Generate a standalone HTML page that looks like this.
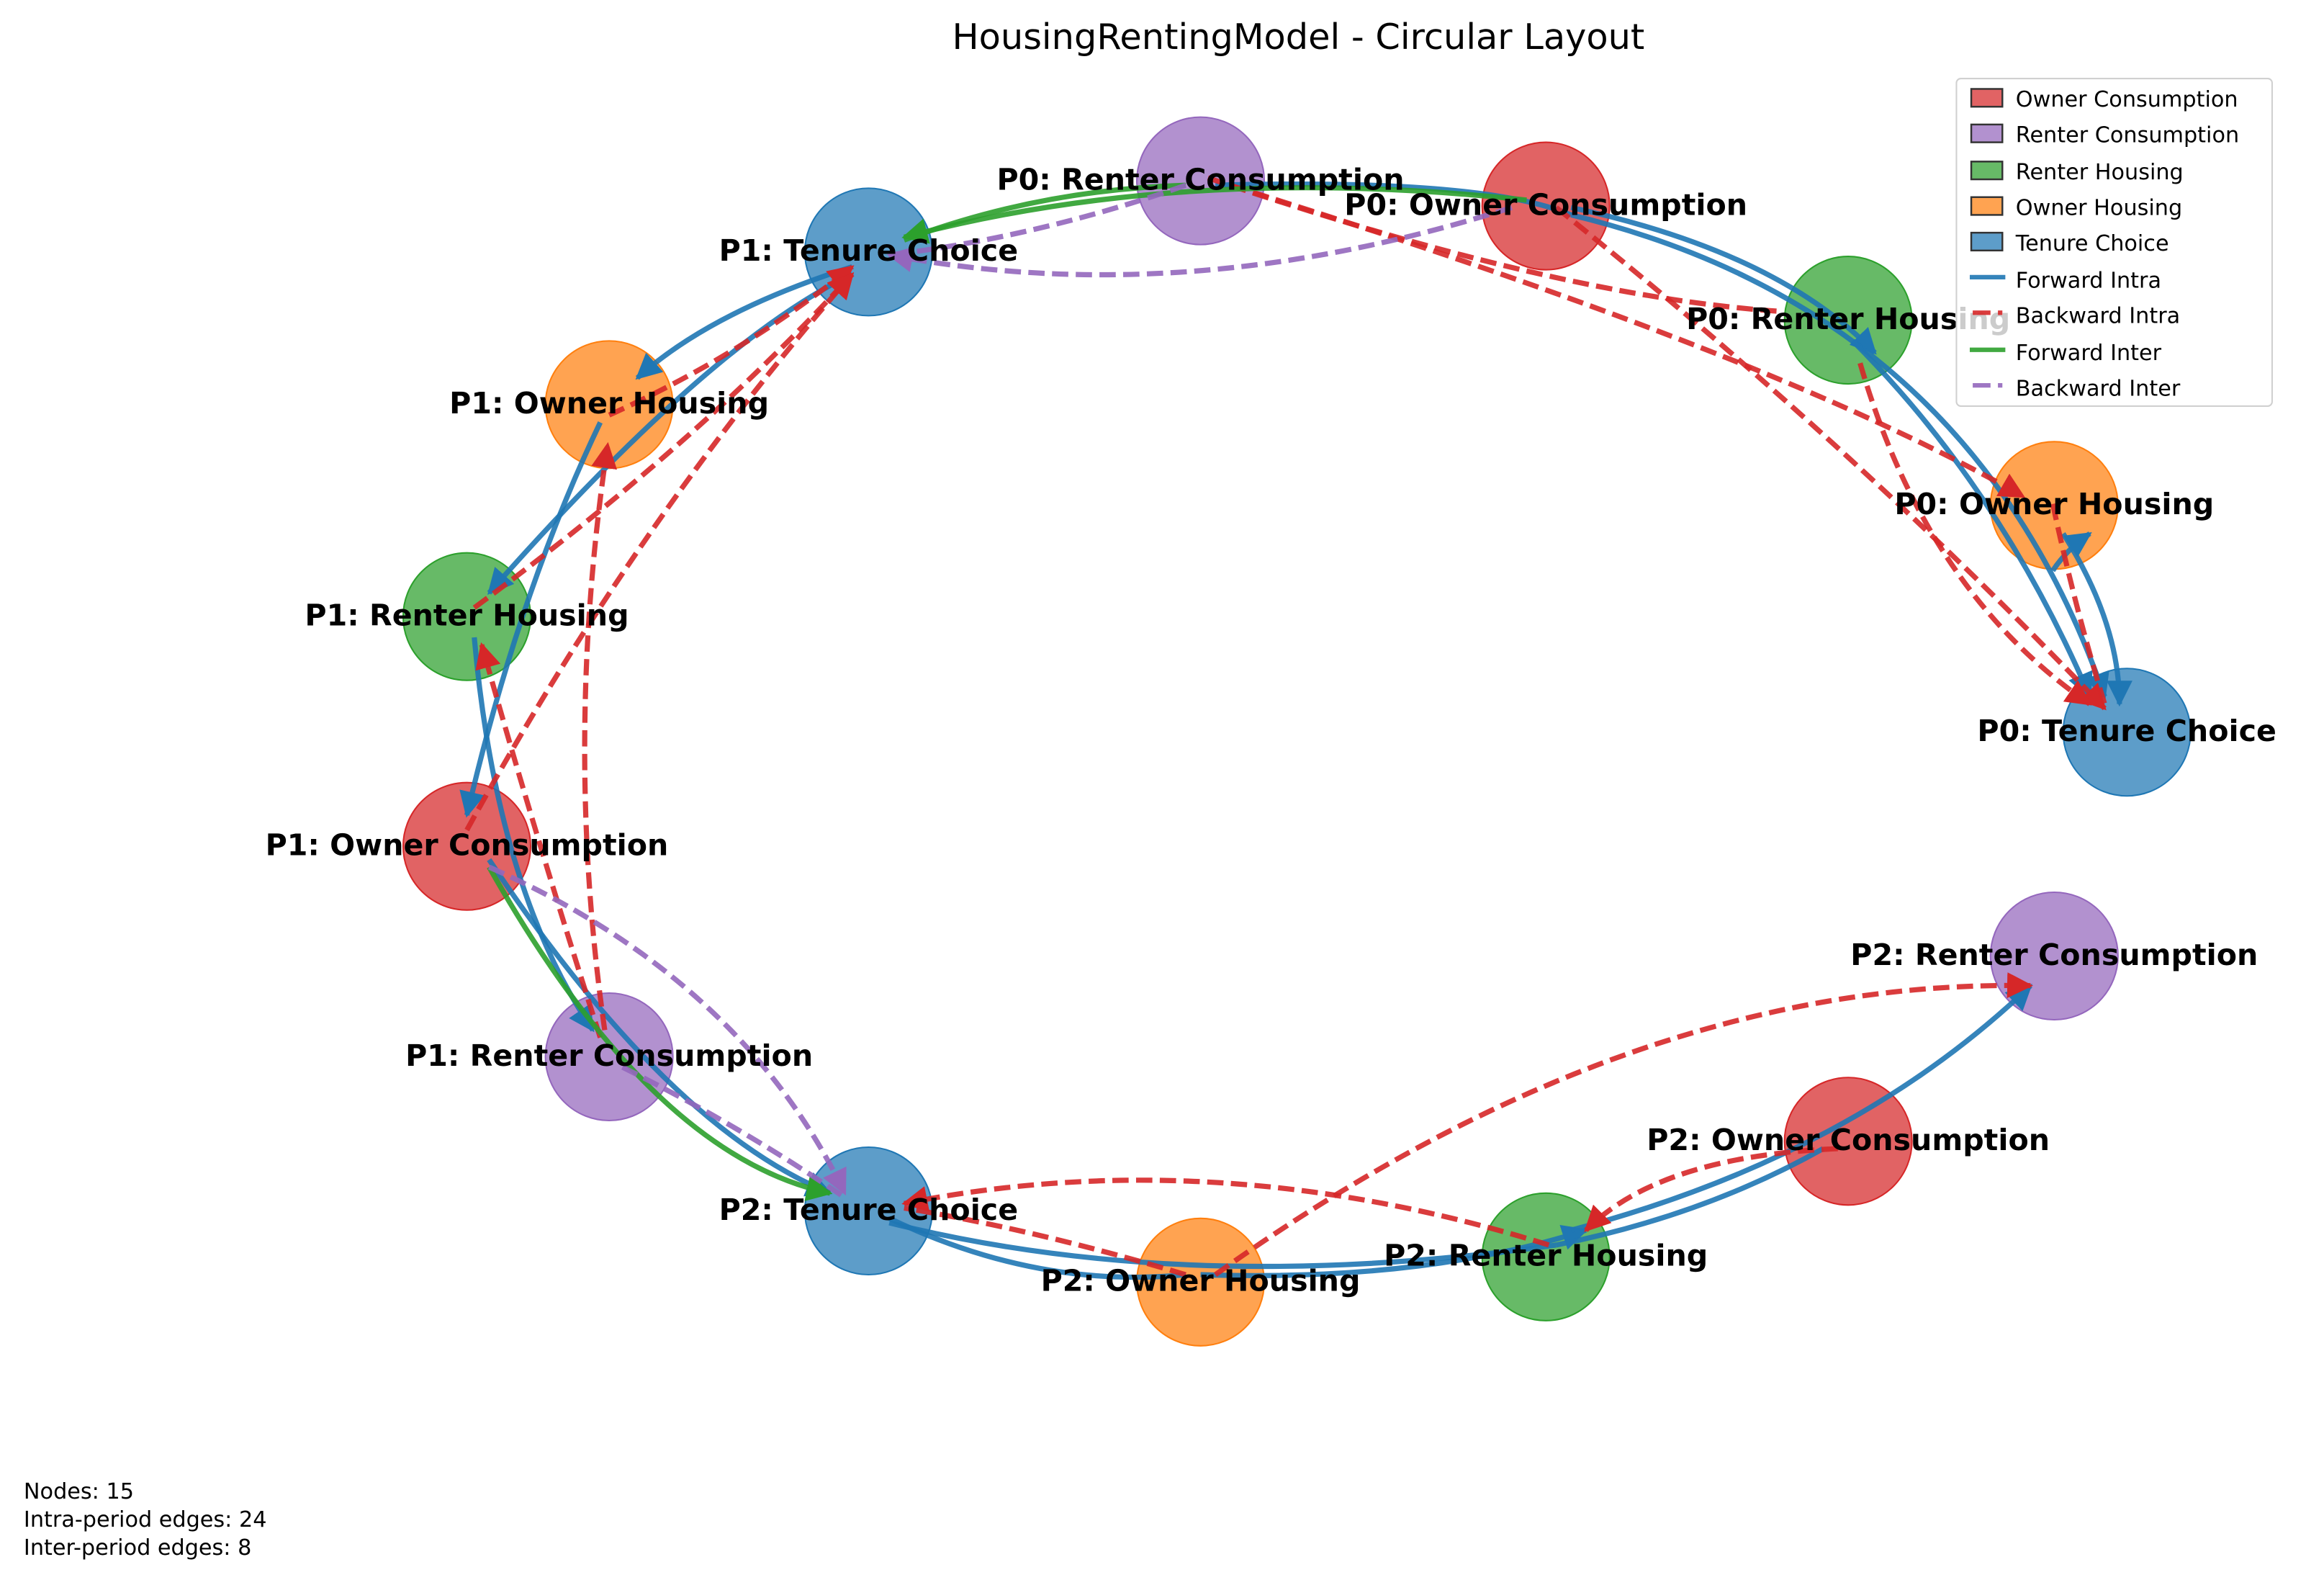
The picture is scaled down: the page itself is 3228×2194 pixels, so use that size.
<!DOCTYPE html>
<html><head><style>html,body{margin:0;padding:0;background:#fff}svg{display:block}</style></head>
<body>
<svg width="3228" height="2194" viewBox="0 0 1568 1066" preserveAspectRatio="none" xmlns="http://www.w3.org/2000/svg" font-family="'DejaVu Sans','Liberation Sans',sans-serif">
<defs>
<marker id="ab" viewBox="0 0 10 10" refX="9" refY="5" markerWidth="5" markerHeight="5" orient="auto"><path d="M0,0L10,5L0,10z" fill="#1f77b4"/></marker>
<marker id="ar" viewBox="0 0 10 10" refX="9" refY="5" markerWidth="5" markerHeight="5" orient="auto"><path d="M0,0L10,5L0,10z" fill="#d62728"/></marker>
<marker id="ag" viewBox="0 0 10 10" refX="9" refY="5" markerWidth="5" markerHeight="5" orient="auto"><path d="M0,0L10,5L0,10z" fill="#2ca02c"/></marker>
<marker id="ap" viewBox="0 0 10 10" refX="9" refY="5" markerWidth="5" markerHeight="5" orient="auto"><path d="M0,0L10,5L0,10z" fill="#9467bd"/></marker>
</defs>
<text x="876" y="33" font-size="24" text-anchor="middle">HousingRentingModel - Circular Layout</text>
<g fill-opacity="0.72">
<circle cx="810" cy="122" r="43" fill="#9467bd" stroke="#9467bd"/>
<circle cx="1043" cy="139" r="43" fill="#d62728" stroke="#d62728"/>
<circle cx="1247" cy="216" r="43" fill="#2ca02c" stroke="#2ca02c"/>
<circle cx="1386" cy="341" r="43" fill="#ff7f0e" stroke="#ff7f0e"/>
<circle cx="1435" cy="494" r="43" fill="#1f77b4" stroke="#1f77b4"/>
<circle cx="1386" cy="645" r="43" fill="#9467bd" stroke="#9467bd"/>
<circle cx="1247" cy="770" r="43" fill="#d62728" stroke="#d62728"/>
<circle cx="1043" cy="848" r="43" fill="#2ca02c" stroke="#2ca02c"/>
<circle cx="810" cy="865" r="43" fill="#ff7f0e" stroke="#ff7f0e"/>
<circle cx="586" cy="817" r="43" fill="#1f77b4" stroke="#1f77b4"/>
<circle cx="411" cy="713" r="43" fill="#9467bd" stroke="#9467bd"/>
<circle cx="315" cy="571" r="43" fill="#d62728" stroke="#d62728"/>
<circle cx="315" cy="416" r="43" fill="#2ca02c" stroke="#2ca02c"/>
<circle cx="411" cy="273" r="43" fill="#ff7f0e" stroke="#ff7f0e"/>
<circle cx="586" cy="170" r="43" fill="#1f77b4" stroke="#1f77b4"/>
</g>
<g fill="none" stroke-width="3.5" stroke-opacity="0.9">
<g stroke="#1f77b4">
<path d="M1060,140 Q1200,170 1265,238" marker-end="url(#ab)"/>
<path d="M1060,145 Q1330,210 1420,470" marker-end="url(#ab)"/>
<path d="M1250,230 Q1350,330 1410,470" marker-end="url(#ab)"/>
<path d="M1392,360 Q1430,420 1430,475" marker-end="url(#ab)"/>
<path d="M1385,385 Q1395,370 1410,360" marker-end="url(#ab)"/>
<path d="M820,125 Q1000,120 1060,145"/>
<path d="M575,180 Q480,210 430,255" marker-end="url(#ab)"/>
<path d="M575,185 Q480,230 330,400" marker-end="url(#ab)"/>
<path d="M405,285 Q350,400 315,550" marker-end="url(#ab)"/>
<path d="M320,430 Q335,600 400,695" marker-end="url(#ab)"/>
<path d="M600,822 Q700,870 800,860"/>
<path d="M600,825 Q800,875 1050,840" />
<path d="M810,860 Q960,865 1070,830" marker-end="url(#ab)"/>
<path d="M1050,840 Q1150,820 1230,775" />
<path d="M1060,830 Q1250,780 1370,665" marker-end="url(#ab)"/>
<path d="M330,580 Q450,760 560,805" marker-end="url(#ab)"/>
</g>
<g stroke="#d62728" stroke-dasharray="11,5">
<path d="M815,120 Q1050,200 1200,210"/>
<path d="M830,125 Q1200,240 1365,335" marker-end="url(#ar)"/>
<path d="M1050,140 Q1250,300 1420,478" marker-end="url(#ar)"/>
<path d="M1255,245 Q1300,400 1410,475" marker-end="url(#ar)"/>
<path d="M1385,340 Q1400,410 1420,475"/>
<path d="M411,280 Q500,240 575,180" marker-end="url(#ar)"/>
<path d="M320,410 Q470,300 575,185" marker-end="url(#ar)"/>
<path d="M315,560 Q430,350 575,185" marker-end="url(#ar)"/>
<path d="M408,695 Q380,500 410,300" marker-end="url(#ar)"/>
<path d="M405,700 Q360,560 325,435" marker-end="url(#ar)"/>
<path d="M820,860 Q1100,660 1370,665" marker-end="url(#ar)"/>
<path d="M1045,840 Q820,770 610,812" marker-end="url(#ar)"/>
<path d="M800,860 Q700,830 610,815"/>
<path d="M1240,775 Q1120,780 1070,830" marker-end="url(#ar)"/>
</g>
<g stroke="#2ca02c">
<path d="M1030,135 Q800,110 610,160" marker-end="url(#ag)"/>
<path d="M800,125 Q700,128 610,162"/>
<path d="M330,585 Q440,780 560,805" marker-end="url(#ag)"/>
</g>
<g stroke="#9467bd" stroke-dasharray="11,5">
<path d="M1020,140 Q800,210 600,172" marker-end="url(#ap)"/>
<path d="M800,125 Q700,160 600,172"/>
<path d="M330,585 Q500,660 570,805" marker-end="url(#ap)"/>
<path d="M420,720 Q500,760 570,808"/>
</g>
</g>
<g font-size="20" font-weight="bold" text-anchor="middle" font-family="'DejaVu Sans','Liberation Sans',sans-serif">
<text x="810" y="128">P0: Renter Consumption</text>
<text x="1043" y="145">P0: Owner Consumption</text>
<text x="1247" y="222">P0: Renter Housing</text>
<text x="1386" y="347">P0: Owner Housing</text>
<text x="1435" y="500">P0: Tenure Choice</text>
<text x="1386" y="651">P2: Renter Consumption</text>
<text x="1247" y="776">P2: Owner Consumption</text>
<text x="1043" y="854">P2: Renter Housing</text>
<text x="810" y="871">P2: Owner Housing</text>
<text x="586" y="823">P2: Tenure Choice</text>
<text x="411" y="719">P1: Renter Consumption</text>
<text x="315" y="577">P1: Owner Consumption</text>
<text x="315" y="422">P1: Renter Housing</text>
<text x="411" y="279">P1: Owner Housing</text>
<text x="586" y="176">P1: Tenure Choice</text>
</g>
<rect x="1320" y="53" width="213" height="221" rx="3" fill="#fff" fill-opacity="0.8" stroke="#d0d0d0" stroke-width="1"/>
<g stroke="#333" stroke-width="1.2" fill-opacity="0.72">
<rect x="1330" y="60" width="21" height="12" fill="#d62728"/>
<rect x="1330" y="84" width="21" height="12" fill="#9467bd"/>
<rect x="1330" y="109" width="21" height="12" fill="#2ca02c"/>
<rect x="1330" y="133" width="21" height="12" fill="#ff7f0e"/>
<rect x="1330" y="157" width="21" height="12" fill="#1f77b4"/>
</g>
<g stroke-width="3" stroke-opacity="0.9">
<line x1="1329" y1="187" x2="1353" y2="187" stroke="#1f77b4"/>
<line x1="1331" y1="211" x2="1351" y2="211" stroke="#d62728" stroke-dasharray="12,5"/>
<line x1="1329" y1="236" x2="1353" y2="236" stroke="#2ca02c"/>
<line x1="1331" y1="260" x2="1351" y2="260" stroke="#9467bd" stroke-dasharray="12,5"/>
</g>
<g font-size="14.7">
<text x="1360" y="72">Owner Consumption</text>
<text x="1360" y="96">Renter Consumption</text>
<text x="1360" y="121">Renter Housing</text>
<text x="1360" y="145">Owner Housing</text>
<text x="1360" y="169">Tenure Choice</text>
<text x="1360" y="194">Forward Intra</text>
<text x="1360" y="218">Backward Intra</text>
<text x="1360" y="243">Forward Inter</text>
<text x="1360" y="267">Backward Inter</text>
</g>
<g font-size="14.7">
<text x="16" y="1011">Nodes: 15</text>
<text x="16" y="1030">Intra-period edges: 24</text>
<text x="16" y="1049">Inter-period edges: 8</text>
</g>
</svg>
</body></html>
